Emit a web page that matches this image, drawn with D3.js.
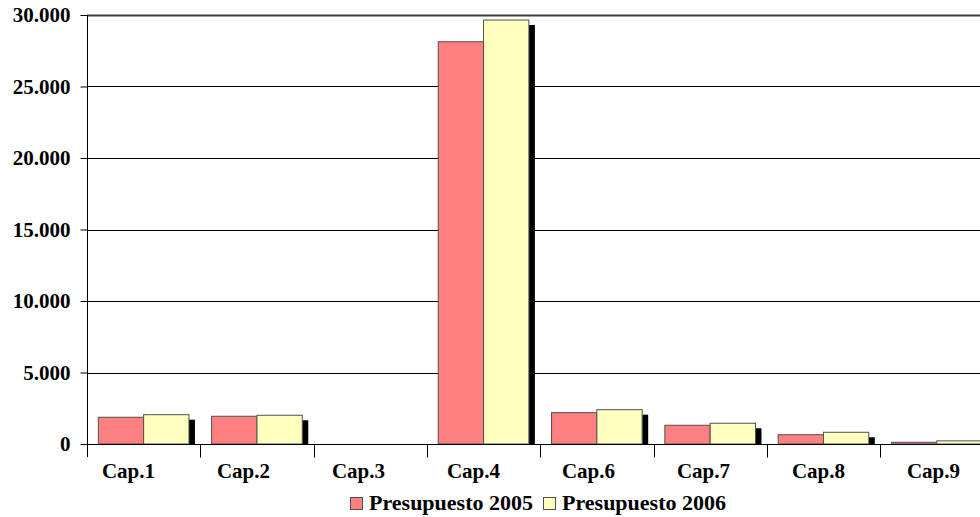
<!DOCTYPE html>
<html>
<head>
<meta charset="utf-8">
<script src="https://cdn.jsdelivr.net/npm/d3@7"></script>
<style>
  html, body { margin: 0; padding: 0; background: #fff; }
  svg { display: block; }
  text { font-family: "Liberation Serif", "Times New Roman", serif; font-weight: bold; fill: #000; }
</style>
</head>
<body>
<svg id="chart" width="980" height="517"></svg>
<script>
const categories = ["Cap.1", "Cap.2", "Cap.3", "Cap.4", "Cap.6", "Cap.7", "Cap.8", "Cap.9"];
const seriesNames = ["Presupuesto 2005", "Presupuesto 2006"];
const values2005 = [1870, 1940, 0, 28130, 2190, 1310, 650, 120];
const values2006 = [2050, 2010, 0, 29650, 2400, 1450, 820, 220];
const yTicks = [0, 5000, 10000, 15000, 20000, 25000, 30000];
const colors = ["#FF8080", "#FFFFC0"];

const svg = d3.select("#chart");
const W = 980, H = 517;
const mLeft = 87, mRight = 993.4, mTop = 15, mBottom = 444;

const x = d3.scaleBand().domain(categories).range([mLeft, mRight]).paddingInner(0).paddingOuter(0);
const xLabel = d3.scaleBand().domain(categories).range([71, 991]).paddingInner(0).paddingOuter(0);
const xs = d3.scaleBand().domain(seriesNames).range([0, x.bandwidth()]).paddingInner(0).paddingOuter(0.25);
const y = d3.scaleLinear().domain([0, 30000]).range([mBottom, mTop]);

const loc = d3.formatLocale({decimal: ",", thousands: ".", grouping: [3], currency: ["", "€"]});
const fmt = loc.format(",d");

// gridlines
svg.append("g").selectAll("line").data(yTicks.filter(d => d > 0)).join("line")
  .attr("x1", mLeft).attr("x2", W)
  .attr("y1", d => Math.round(y(d)) + 0.5).attr("y2", d => Math.round(y(d)) + 0.5)
  .attr("stroke", d => d === 30000 ? "#404040" : "#000")
  .attr("stroke-width", d => d === 30000 ? 2 : 1);

// data rows
const rows = [];
categories.forEach((c, i) => {
  rows.push({cat: c, s: seriesNames[0], v: values2005[i], color: colors[0]});
  rows.push({cat: c, s: seriesNames[1], v: values2006[i], color: colors[1]});
});
const shown = rows.filter(d => d.v > 0);

// shadows
svg.append("g").selectAll("rect").data(shown).join("rect")
  .attr("x", d => x(d.cat) + xs(d.s) + xs.bandwidth())
  .attr("y", d => Math.min(y(d.v) + 5, mBottom))
  .attr("width", 6)
  .attr("height", d => Math.max(0, mBottom - (y(d.v) + 5)))
  .attr("fill", "#000");

// bars
svg.append("g").selectAll("rect").data(shown).join("rect")
  .attr("x", d => x(d.cat) + xs(d.s))
  .attr("y", d => y(d.v))
  .attr("width", xs.bandwidth())
  .attr("height", d => mBottom - y(d.v))
  .attr("fill", d => d.color)
  .attr("stroke", "#505050")
  .attr("stroke-width", 1);

// y axis
const yAxis = svg.append("g").attr("transform", `translate(${mLeft + 0.5},0)`)
  .call(d3.axisLeft(y).tickValues(yTicks).tickFormat(fmt).tickSize(7).tickPadding(10));
yAxis.select(".domain").attr("stroke", "#000").attr("d", `M0,${mTop}V${mBottom + 13}`);
yAxis.selectAll(".tick line").attr("stroke", "#000");
yAxis.selectAll(".tick text").style("font-size", "21px").style("font-family", "Liberation Serif").style("font-weight", "bold").attr("fill", "#000");

// x axis
const xAxis = svg.append("g").attr("transform", `translate(0,${mBottom + 0.5})`);
xAxis.append("line").attr("x1", mLeft).attr("x2", W).attr("y1", 0).attr("y2", 0).attr("stroke", "#000");
xAxis.selectAll("line.tk").data(categories.slice(1).concat(["end"])).join("line").attr("class", "tk")
  .attr("x1", d => d === "end" ? mRight : Math.round(x(d)) + 0.5)
  .attr("x2", d => d === "end" ? mRight : Math.round(x(d)) + 0.5)
  .attr("y1", 0).attr("y2", 13).attr("stroke", "#000");
xAxis.selectAll("text").data(categories).join("text")
  .attr("x", d => xLabel(d) + xLabel.bandwidth() / 2)
  .attr("y", 33)
  .attr("text-anchor", "middle")
  .style("font-size", "21px")
  .text(d => d);

// legend
const legend = svg.append("g");
const legendItems = [{name: seriesNames[0], color: colors[0], x: 350}, {name: seriesNames[1], color: colors[1], x: 543}];
legendItems.forEach(it => {
  legend.append("rect").attr("x", it.x + 0.5).attr("y", 497.5).attr("width", 12).attr("height", 12)
    .attr("fill", it.color).attr("stroke", "#505050");
  legend.append("text").attr("x", it.x + 19).attr("y", 509.5).style("font-size", "22px").text(it.name);
});
</script>
</body>
</html>
